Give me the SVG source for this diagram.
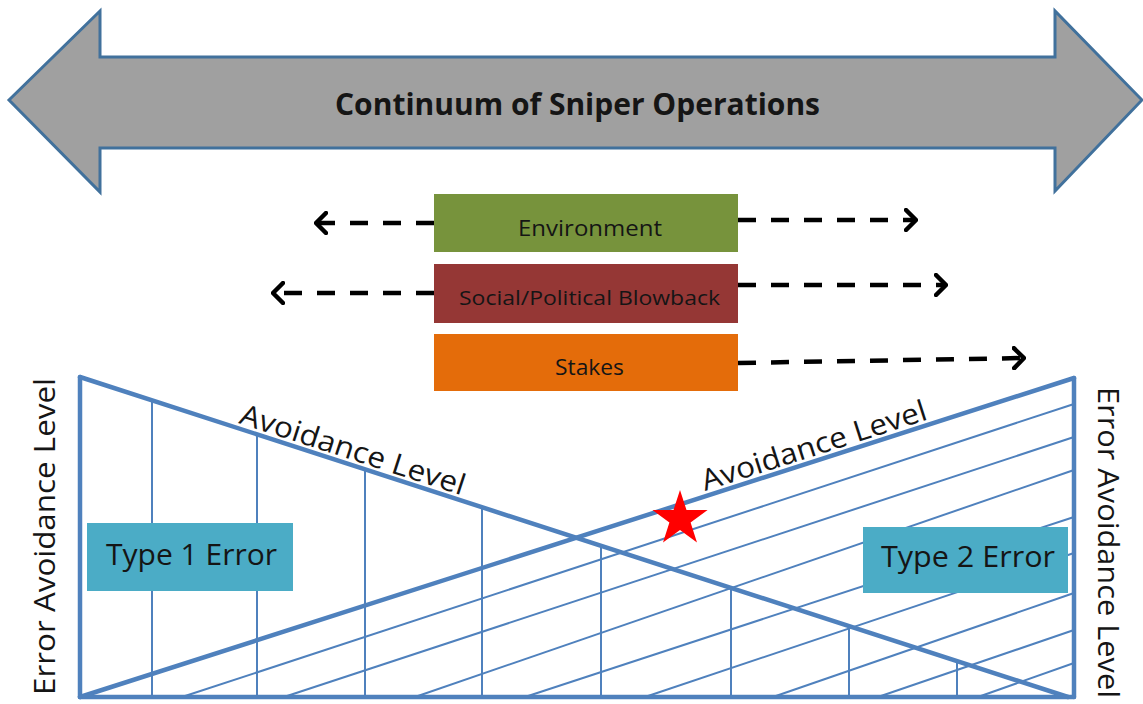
<svg xmlns="http://www.w3.org/2000/svg" width="1143" height="704" viewBox="0 0 1143 704">
  <defs>
    <style>
      .txt { font-family: "Open Sans", "Liberation Sans", sans-serif; fill: #151515; }
      .dash { stroke: #000; stroke-width: 4.5; stroke-dasharray: 18 15; fill: none; marker-end: url(#chev); }
      .thick { stroke: #4F81BD; stroke-width: 4.5; fill: none; stroke-linecap: round; }
      .thin { stroke: #4F81BD; stroke-width: 2; fill: none; }
      .typebox { fill: #4BACC6; }
    </style>
    <marker id="chev" viewBox="0 0 14 24" refX="12" refY="12" markerWidth="14" markerHeight="24" markerUnits="userSpaceOnUse" orient="auto">
      <path d="M2,2 L12,12 L2,22" fill="none" stroke="#000" stroke-width="4.5" stroke-linecap="round" stroke-linejoin="round"/>
    </marker>
  </defs>
  <rect width="1143" height="704" fill="#fff"/>

  <g id="continuum">
    <polygon points="9,100 100,11 100,57 1055,57 1055,11 1142,100 1055,191 1055,148 100,148 100,192" fill="#A0A0A0" stroke="#41719C" stroke-width="3" stroke-linejoin="miter"/>
    <text class="txt" x="335" y="115" font-size="31" font-weight="bold" textLength="485" lengthAdjust="spacingAndGlyphs">Continuum of Sniper Operations</text>
  </g>

  <g id="environment">
    <rect x="434" y="194" width="304" height="58" fill="#77933C"/>
    <text class="txt" x="518" y="236" font-size="21" textLength="144" lengthAdjust="spacingAndGlyphs">Environment</text>
  </g>
  <g id="blowback">
    <rect x="434" y="264" width="304" height="59" fill="#953735"/>
    <text class="txt" x="459" y="305" font-size="20" textLength="261" lengthAdjust="spacingAndGlyphs">Social/Political Blowback</text>
  </g>
  <g id="stakes">
    <rect x="434" y="334" width="304" height="57" fill="#E46C0A"/>
    <text class="txt" x="555" y="375" font-size="21" textLength="69" lengthAdjust="spacingAndGlyphs">Stakes</text>
  </g>

  <g id="connectors">
    <line class="dash" x1="434" y1="223" x2="316" y2="223"/>
    <line class="dash" x1="738" y1="220" x2="916" y2="220"/>
    <line class="dash" x1="434" y1="293" x2="273" y2="293"/>
    <line class="dash" x1="738" y1="285" x2="946" y2="285"/>
    <line class="dash" x1="738" y1="363" x2="1024" y2="358"/>
  </g>

  <g id="chart">
    <g id="verticals">
      <line class="thin" x1="152" y1="697" x2="152" y2="400"/>
      <line class="thin" x1="257" y1="697" x2="257" y2="434"/>
      <line class="thin" x1="365" y1="697" x2="365" y2="469"/>
      <line class="thin" x1="482" y1="697" x2="482" y2="507"/>
      <line class="thin" x1="601" y1="697" x2="601" y2="546"/>
      <line class="thin" x1="731" y1="697" x2="731" y2="588"/>
      <line class="thin" x1="849" y1="697" x2="849" y2="626"/>
      <line class="thin" x1="957" y1="697" x2="957" y2="661"/>
    </g>
    <g id="hatching">
      <line class="thin" x1="182" y1="697" x2="1074" y2="404"/>
      <line class="thin" x1="284" y1="697" x2="1074" y2="437"/>
      <line class="thin" x1="415" y1="697" x2="1074" y2="470"/>
      <line class="thin" x1="525" y1="697" x2="1074" y2="517"/>
      <line class="thin" x1="645" y1="697" x2="1074" y2="553"/>
      <line class="thin" x1="773" y1="697" x2="1074" y2="593"/>
      <line class="thin" x1="878" y1="697" x2="1074" y2="630"/>
      <line class="thin" x1="978" y1="697" x2="1074" y2="663"/>
    </g>
    <line class="thick" x1="80" y1="377" x2="80" y2="697"/>
    <line class="thick" x1="80" y1="697" x2="1074" y2="697"/>
    <line class="thick" x1="1074" y1="378" x2="1074" y2="697"/>
    <line class="thick" x1="80" y1="377" x2="1068" y2="697"/>
    <line class="thick" x1="80" y1="697" x2="1074" y2="378"/>
  </g>

  <g id="type1">
    <rect class="typebox" x="87" y="523" width="206" height="68"/>
    <text class="txt" x="106" y="565" font-size="30" textLength="171" lengthAdjust="spacingAndGlyphs">Type 1 Error</text>
  </g>
  <g id="type2">
    <rect class="typebox" x="863" y="527" width="205" height="66"/>
    <text class="txt" x="881" y="567" font-size="30" textLength="174" lengthAdjust="spacingAndGlyphs">Type 2 Error</text>
  </g>

  <g id="star">
    <polygon points="680,490 686.5,510 707.6,510 690.6,522.4 697,542.5 680,530.1 663,542.5 669.4,522.4 652.4,510 673.5,510" fill="#FF0000"/>
  </g>

  <g id="labels">
    <text class="txt" x="238" y="423" font-size="29" textLength="235" lengthAdjust="spacingAndGlyphs" transform="rotate(17.95 238 423)">Avoidance Level</text>
    <text class="txt" x="705" y="491" font-size="29" textLength="235" lengthAdjust="spacingAndGlyphs" transform="rotate(-17.8 705 491)">Avoidance Level</text>
    <text class="txt" x="55" y="695" font-size="30" textLength="317" lengthAdjust="spacingAndGlyphs" transform="rotate(-90 55 695)">Error Avoidance Level</text>
    <text class="txt" x="1098" y="387" font-size="30" textLength="311" lengthAdjust="spacingAndGlyphs" transform="rotate(90 1098 387)">Error Avoidance Level</text>
  </g>
</svg>
